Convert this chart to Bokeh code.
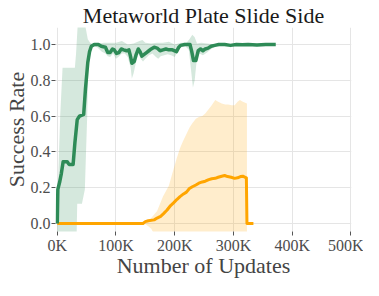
from bokeh.plotting import figure
from bokeh.models import FixedTicker, Range1d, CustomJSTickFormatter
from bokeh.embed import file_html
from bokeh.resources import INLINE

# ---------------- data (x in thousands of updates) ----------------
x_ticks = [0, 100, 200, 300, 400, 500]
x_tick_labels = ["0K", "100K", "200K", "300K", "400K", "500K"]
y_ticks = [0.0, 0.2, 0.4, 0.6, 0.8, 1.0]
y_tick_labels = ["0.0", "0.2", "0.4", "0.6", "0.8", "1.0"]

green_x = [0, 1, 4, 7, 10, 17, 20, 27, 30, 34, 38, 45, 48, 52, 55, 58, 63, 70, 75, 82,
           86, 90, 94, 97, 101, 105, 109, 113, 118, 122, 125, 127, 131, 134, 138, 141,
           144, 148, 152, 156, 160, 165, 170, 175, 180, 185, 190, 196, 203, 207, 210,
           217, 226, 229, 232, 236, 240, 244, 248, 252, 257, 262, 268, 275, 285, 295,
           305, 315, 325, 340, 355, 372]
green_y = [0.0, 0.19, 0.23, 0.28, 0.345, 0.345, 0.33, 0.33, 0.45, 0.58, 0.60, 0.61, 0.75,
           0.90, 0.96, 0.99, 1.0, 1.0, 0.99, 0.985, 0.955, 0.955, 0.975, 0.97, 0.95, 0.955,
           0.975, 0.97, 0.965, 0.97, 0.93, 0.895, 0.905, 0.94, 0.975, 0.96, 0.935, 0.945,
           0.955, 0.965, 0.975, 0.985, 0.98, 0.965, 0.97, 0.975, 0.97, 0.97, 0.96, 0.985,
           0.995, 1.0, 1.0, 0.96, 0.91, 0.91, 0.965, 0.975, 0.965, 0.975, 0.98, 0.99,
           0.995, 1.0, 1.0, 0.995, 1.0, 0.998, 1.0, 0.997, 1.0, 1.0]

green_upper_x = [0, 2, 5, 9, 30, 32, 35, 46, 48, 52, 56, 62, 70, 80, 90, 100, 110, 120,
                 130, 140, 145, 150, 160, 170, 180, 190, 200, 210, 220, 225, 230, 234,
                 238, 245, 255, 270, 372]
green_upper = [0.0, 0.3, 0.6, 0.87, 0.87, 0.95, 1.12, 1.12, 1.1, 1.03, 1.01, 1.0, 1.005,
               1.01, 1.01, 1.01, 1.02, 1.0, 1.005, 1.02, 1.025, 1.01, 1.005, 1.01, 1.01,
               1.015, 1.0, 1.01, 1.01, 1.03, 1.055, 1.04, 1.005, 1.01, 1.005, 1.0, 1.0]
green_lower_x = [0, 33, 34, 42, 47, 49, 51, 53, 56, 60, 68, 76, 82, 86, 90, 95, 100, 104,
                 110, 115, 120, 125, 127, 130, 134, 138, 142, 146, 150, 156, 162, 168,
                 172, 176, 182, 188, 194, 200, 205, 210, 218, 224, 228, 231, 234, 238,
                 242, 248, 255, 262, 270, 280, 372]
green_lower = [-0.06, -0.06, 0.11, 0.11, 0.19, 0.4, 0.6, 0.9, 0.95, 0.99, 0.985, 0.96,
               0.95, 0.935, 0.93, 0.95, 0.92, 0.93, 0.95, 0.95, 0.93, 0.87, 0.81, 0.84,
               0.9, 0.95, 0.92, 0.905, 0.92, 0.94, 0.95, 0.93, 0.92, 0.935, 0.94, 0.945,
               0.94, 0.93, 0.96, 0.985, 0.99, 0.97, 0.85, 0.76, 0.80, 0.93, 0.95, 0.94,
               0.955, 0.975, 0.99, 0.995, 0.995]

orange_x = [0, 146, 150, 155, 165, 170, 176, 181, 187, 193, 198, 204, 209, 215, 220, 225,
            230, 236, 241, 247, 252, 258, 263, 269, 274, 280, 285, 290, 296, 302, 307,
            312, 316, 320, 322, 323, 334]
orange_y = [0.0, 0.0, 0.01, 0.015, 0.02, 0.03, 0.04, 0.055, 0.075, 0.1, 0.115, 0.135,
            0.15, 0.165, 0.175, 0.195, 0.205, 0.215, 0.225, 0.232, 0.236, 0.245, 0.25,
            0.252, 0.258, 0.264, 0.268, 0.262, 0.258, 0.252, 0.255, 0.262, 0.264, 0.258,
            0.255, 0.0, 0.0]

orange_upper_x = [146, 150, 160, 170, 180, 190, 196, 203, 209, 214, 220, 225, 230, 236,
                  241, 247, 252, 258, 263, 269, 274, 280, 286, 291, 297, 302, 307, 311,
                  316, 320, 323]
orange_upper = [0.0, 0.0, 0.03, 0.07, 0.15, 0.21, 0.28, 0.36, 0.42, 0.46, 0.50, 0.535,
                0.56, 0.585, 0.595, 0.60, 0.615, 0.64, 0.66, 0.69, 0.68, 0.67, 0.665,
                0.665, 0.66, 0.66, 0.68, 0.69, 0.68, 0.675, 0.67]
orange_lower_x = [146, 150, 155, 160, 165, 323]
orange_lower = [0.0, -0.005, -0.015, -0.03, -0.06, -0.06]

GREEN = "#2e8b57"
ORANGE = "#ffa500"
SERIF = "Liberation Serif"

p = figure(width=363, height=280, output_backend="svg", toolbar_location=None,
           x_range=Range1d(-3, 501), y_range=Range1d(-0.045, 1.095),
           title="Metaworld Plate Slide Side")
p.min_border_left = 0
p.min_border_right = 12
p.min_border_top = 0
p.min_border_bottom = 0
p.outline_line_color = None
p.background_fill_color = "white"

p.title.text_font = SERIF
p.title.text_font_size = "22px"
p.title.text_font_style = "normal"
p.title.text_color = "#1a1a1a"
p.title.align = "center"
p.title.offset = 0
p.title.standoff = 0

# bands
p.patch(green_upper_x + green_lower_x[::-1], green_upper + green_lower[::-1],
        fill_color=GREEN, fill_alpha=0.2, line_color=None)
p.patch(orange_upper_x + orange_lower_x[::-1], orange_upper + orange_lower[::-1],
        fill_color=ORANGE, fill_alpha=0.2, line_color=None)

p.line(orange_x, orange_y, line_color=ORANGE, line_width=3, line_join="round")
p.line(green_x, green_y, line_color=GREEN, line_width=3.5, line_join="round")

p.xaxis.ticker = FixedTicker(ticks=x_ticks)
p.yaxis.ticker = FixedTicker(ticks=y_ticks)
LOOKUP = ("for (let i = 0; i < tv.length; i++) { if (Math.abs(tv[i] - tick) < 1e-9) "
          "return lab[i]; } return '';")
p.xaxis.formatter = CustomJSTickFormatter(args=dict(tv=x_ticks, lab=x_tick_labels), code=LOOKUP)
p.yaxis.formatter = CustomJSTickFormatter(args=dict(tv=y_ticks, lab=y_tick_labels), code=LOOKUP)

p.xaxis.axis_label = "Number of Updates"
p.yaxis.axis_label = "Success Rate"
p.axis.axis_line_color = None
p.axis.major_tick_line_color = "#555555"
p.axis.major_tick_out = 4
p.axis.major_tick_in = 0
p.axis.minor_tick_line_color = None
p.axis.major_label_text_font = SERIF
p.axis.major_label_text_font_size = "16px"
p.axis.major_label_text_color = "#4d4d4d"
p.axis.major_label_standoff = 1
p.axis.axis_label_text_font = SERIF
p.axis.axis_label_text_font_size = "22px"
p.axis.axis_label_text_font_style = "normal"
p.axis.axis_label_text_color = "#444444"
p.xaxis.axis_label_standoff = -4
p.yaxis.axis_label_standoff = -1

p.xgrid.grid_line_color = "#e5e5e5"
p.ygrid.grid_line_color = "#e5e5e5"
p.xgrid.grid_line_width = 1
p.ygrid.grid_line_width = 1

open("out.html", "w").write(file_html(p, INLINE))
